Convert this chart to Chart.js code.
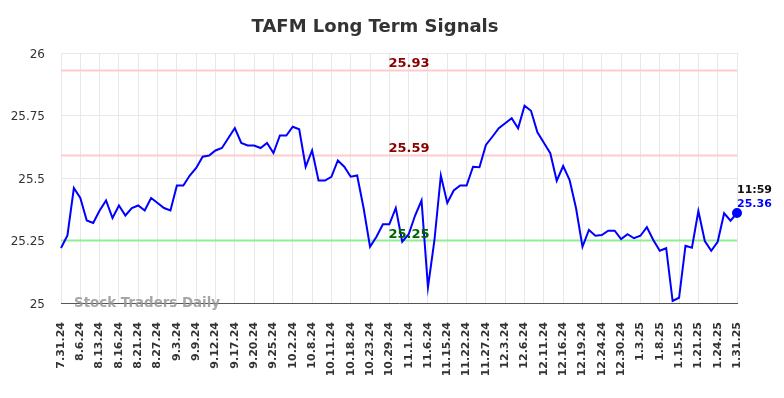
<!DOCTYPE html>
<html>
<head>
<meta charset="utf-8">
<script src="https://cdn.jsdelivr.net/npm/chart.js@4.4.1/dist/chart.umd.min.js"></script>
<style>
    html, body { margin: 0; padding: 0; background: #fff; }
    #wrap { width: 784px; height: 398px; position: relative; }
</style>
</head>
<body>
<div id="wrap"><canvas id="signalChart"></canvas></div>
<script>
const chartTitle = 'TAFM Long Term Signals';

// fechas que se muestran en el eje x (una cada 3 puntos)
const tickLabels = [
    '7.31.24', '8.6.24', '8.13.24', '8.16.24', '8.21.24', '8.27.24', '9.3.24', '9.9.24', '9.12.24',
    '9.17.24', '9.20.24', '9.25.24', '10.2.24', '10.8.24', '10.11.24', '10.18.24', '10.23.24', '10.29.24',
    '11.1.24', '11.6.24', '11.15.24', '11.22.24', '11.27.24', '12.3.24', '12.6.24', '12.11.24', '12.16.24',
    '12.19.24', '12.24.24', '12.30.24', '1.3.25', '1.8.25', '1.15.25', '1.21.25', '1.24.25', '1.31.25'
];

const prices = [
    25.22, 25.27, 25.46, 25.42, 25.33, 25.32, 25.37, 25.41, 25.34, 25.39,
    25.35, 25.38, 25.39, 25.37, 25.42, 25.40, 25.38, 25.37, 25.47, 25.47,
    25.51, 25.54, 25.585, 25.59, 25.61, 25.62, 25.66, 25.70, 25.64, 25.63,
    25.63, 25.62, 25.64, 25.60, 25.67, 25.67, 25.705, 25.695, 25.545, 25.61,
    25.49, 25.49, 25.505, 25.57, 25.545, 25.505, 25.51, 25.38, 25.225, 25.265,
    25.315, 25.315, 25.38, 25.245, 25.275, 25.35, 25.41, 25.063, 25.25, 25.51,
    25.40, 25.45, 25.47, 25.47, 25.545, 25.543, 25.632, 25.665, 25.699, 25.719,
    25.739, 25.699, 25.789, 25.769, 25.683, 25.641, 25.599, 25.489, 25.548, 25.492,
    25.379, 25.225, 25.292, 25.269, 25.272, 25.289, 25.289, 25.256, 25.275, 25.259,
    25.269, 25.303, 25.252, 25.209, 25.219, 25.008, 25.021, 25.229, 25.221, 25.368,
    25.248, 25.209, 25.245, 25.359, 25.329, 25.36
];

const yTicks = [25, 25.25, 25.5, 25.75, 26];

const resistanceLevels = [25.93, 25.59];
const supportLevels = [25.25];

const lastTime = '11:59';
const lastPrice = '25.36';

const FONT = "'DejaVu Sans', sans-serif";

// líneas de señal, etiquetas y textos extra
const signalsPlugin = {
    id: 'signals',
    beforeDatasetsDraw(chart) {
        const { ctx, chartArea, scales } = chart;
        ctx.save();
        ctx.lineWidth = 2;
        resistanceLevels.forEach(level => {
            const y = scales.y.getPixelForValue(level);
            ctx.strokeStyle = '#ffcccc';
            ctx.beginPath();
            ctx.moveTo(chartArea.left, y);
            ctx.lineTo(chartArea.right, y);
            ctx.stroke();
        });
        supportLevels.forEach(level => {
            const y = scales.y.getPixelForValue(level);
            ctx.strokeStyle = '#90ee90';
            ctx.beginPath();
            ctx.moveTo(chartArea.left, y);
            ctx.lineTo(chartArea.right, y);
            ctx.stroke();
        });
        ctx.restore();
    },
    afterDatasetsDraw(chart) {
        const { ctx, chartArea, scales } = chart;
        const midX = (chartArea.left + chartArea.right) / 2 + 10;
        ctx.save();
        ctx.textAlign = 'center';
        ctx.textBaseline = 'alphabetic';
        ctx.font = 'bold 13px ' + FONT;
        resistanceLevels.forEach(level => {
            ctx.fillStyle = '#8b0000';
            ctx.fillText(level.toFixed(2), midX, scales.y.getPixelForValue(level) - 4);
        });
        supportLevels.forEach(level => {
            ctx.fillStyle = '#006400';
            ctx.fillText(level.toFixed(2), midX, scales.y.getPixelForValue(level) - 3);
        });

        // marca de agua
        ctx.textAlign = 'left';
        ctx.font = 'bold 13.4px ' + FONT;
        ctx.fillStyle = 'rgba(150,150,150,0.85)';
        ctx.fillText('Stock Traders Daily', chartArea.left + 13, chartArea.bottom + 4);

        // último valor
        const lastIdx = prices.length - 1;
        const px = scales.x.getPixelForValue(lastIdx);
        const py = scales.y.getPixelForValue(prices[lastIdx]);
        ctx.font = 'bold 11px ' + FONT;
        ctx.fillStyle = '#111';
        ctx.fillText(lastTime, px, py - 20);
        ctx.fillStyle = '#0000ff';
        ctx.fillText(lastPrice, px, py - 6);

        // título
        ctx.textAlign = 'center';
        ctx.font = 'bold 18px ' + FONT;
        ctx.fillStyle = '#333';
        ctx.fillText(chartTitle, 375, 32);
        ctx.restore();
    }
};

const ctx = document.getElementById('signalChart').getContext('2d');
new Chart(ctx, {
    type: 'line',
    data: {
        datasets: [{
            data: prices.map((v, i) => ({ x: i, y: v })),
            borderColor: '#0000ff',
            backgroundColor: '#0000ff',
            borderWidth: 2,
            tension: 0,
            clip: false,
            pointRadius: c => c.dataIndex === prices.length - 1 ? 4 : 0,
            pointHoverRadius: 0
        }]
    },
    options: {
        responsive: true,
        maintainAspectRatio: false,
        animation: false,
        layout: {
            padding: { top: 53, right: 47, left: 0, bottom: 0 }
        },
        plugins: {
            legend: { display: false },
            title: { display: false },
            tooltip: { enabled: false }
        },
        scales: {
            x: {
                type: 'linear',
                min: 0,
                max: prices.length - 1,
                afterFit: s => { s.height = 95; },
                afterBuildTicks: s => {
                    s.ticks = tickLabels.map((_, i) => ({ value: i * 3 }));
                },
                ticks: {
                    autoSkip: false,
                    minRotation: 90,
                    maxRotation: 90,
                    padding: 19,
                    color: '#333',
                    font: { family: FONT, size: 11, weight: 'bold' },
                    callback: v => tickLabels[Math.round(v / 3)]
                },
                grid: { color: '#e8e8e8', drawTicks: false },
                border: { color: '#555', width: 1 }
            },
            y: {
                min: 25,
                max: 26,
                afterFit: s => { s.width = 61; },
                afterBuildTicks: s => {
                    s.ticks = yTicks.map(v => ({ value: v }));
                },
                ticks: {
                    padding: 16,
                    labelOffset: 1.5,
                    color: '#333',
                    font: { family: FONT, size: 12 },
                    callback: v => String(v)
                },
                grid: { color: '#e8e8e8', drawTicks: false },
                border: { display: false }
            }
        }
    },
    plugins: [signalsPlugin]
});
</script>
</body>
</html>
